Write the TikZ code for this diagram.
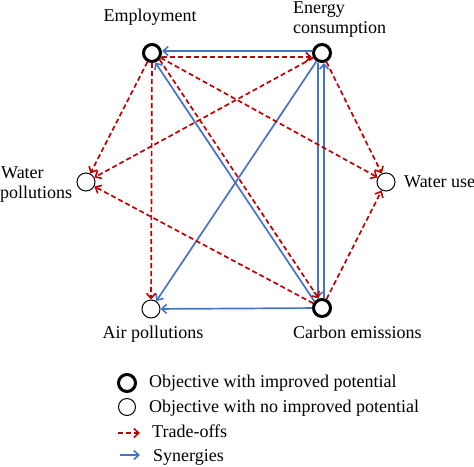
\documentclass[tikz,border=0pt]{standalone}
\usepackage{fontspec}
\setmainfont{Liberation Serif}
\usetikzlibrary{arrows.meta}
\definecolor{tored}{RGB}{192,0,0}
\definecolor{syblue}{RGB}{70,116,196}
\begin{document}
\begin{tikzpicture}[x=1pt,y=-1pt,
  thickobj/.style={circle,draw=black,line width=3pt,minimum size=17pt,inner sep=0pt,fill=white},
  thinobj/.style={circle,draw=black,line width=1pt,minimum size=18pt,inner sep=0pt,fill=white},
  tradeoff/.style={draw=tored,line width=1.7pt,dash pattern=on 5pt off 3pt,-{Straight Barb[length=5pt,width=9pt,line width=1.6pt]}},
  synergy/.style={draw=syblue,line width=1.7pt,-{Straight Barb[length=5pt,width=9pt,line width=1.6pt]}},
  lbl/.style={font=\fontsize{18}{21}\selectfont,inner sep=0pt}]
\useasboundingbox (0,0) rectangle (474,466);
% objectives
\node[thickobj] (em) at (152,53) {};
\node[thickobj] (en) at (322,53) {};
\node[thinobj] (wp) at (86,182) {};
\node[thinobj] (wu) at (386,182) {};
\node[thinobj] (ap) at (151,309) {};
\node[thickobj] (cb) at (322,308) {};
% labels
\node[lbl,anchor=base] (tem) at (150,21) {Employment};
\node[lbl,anchor=base west] (ten1) at (293,13) {Energy};
\node[lbl,anchor=base west] (ten2) at (293,33) {consumption};
\node[lbl,anchor=base west] (twp1) at (1,178) {Water};
\node[lbl,anchor=base west] (twp2) at (0,198) {pollutions};
\node[lbl,anchor=base west] (twu) at (404,187) {Water use};
\node[lbl,anchor=base] (tap) at (153,338) {Air pollutions};
\node[lbl,anchor=base west] (tcb) at (293,338) {Carbon emissions};
% synergies
\draw[synergy] ([yshift=2pt]en.west) -- ([yshift=2pt]em.east);
\draw[synergy] (cb.139) -- (em.-71);
\draw[synergy] (en) -- (ap);
\draw[synergy] (cb) -- (ap);
\draw[synergy] ([xshift=-4pt]en.south) -- ([xshift=-4pt]cb.north);
\draw[synergy] ([xshift=2pt]cb.north) -- ([xshift=2pt]en.south);
% trade-offs
\draw[tradeoff] ([yshift=-4pt]em.east) -- ([yshift=-4pt]en.west);
\draw[tradeoff] (em) -- (wp);
\draw[tradeoff] (em) -- (ap);
\draw[tradeoff] (em.-41) -- (cb.109);
\draw[tradeoff] (em) -- (wu);
\draw[tradeoff] (en) -- (wp);
\draw[tradeoff] (en) -- (wu);
\draw[tradeoff] (cb) -- (wp);
\draw[tradeoff] (cb) -- (wu);
% legend
\node[thickobj] (lg1) at (127,383) {};
\node[thinobj,minimum size=17pt] (lg2) at (127,407) {};
\coordinate (lr1) at (118,433);
\coordinate (lr2) at (140,433);
\coordinate (lb1) at (120,455);
\coordinate (lb2) at (140,455);
\draw[tradeoff] (lr1) -- (lr2);
\draw[synergy] (lb1) -- (lb2);
\node[lbl,anchor=base west] (tl1) at (149,387) {Objective with improved potential};
\node[lbl,anchor=base west] (tl2) at (149,412) {Objective with no improved potential};
\node[lbl,anchor=base west] (tl3) at (152,437) {Trade-offs};
\node[lbl,anchor=base west] (tl4) at (153,461) {Synergies};
\end{tikzpicture}
\end{document}
